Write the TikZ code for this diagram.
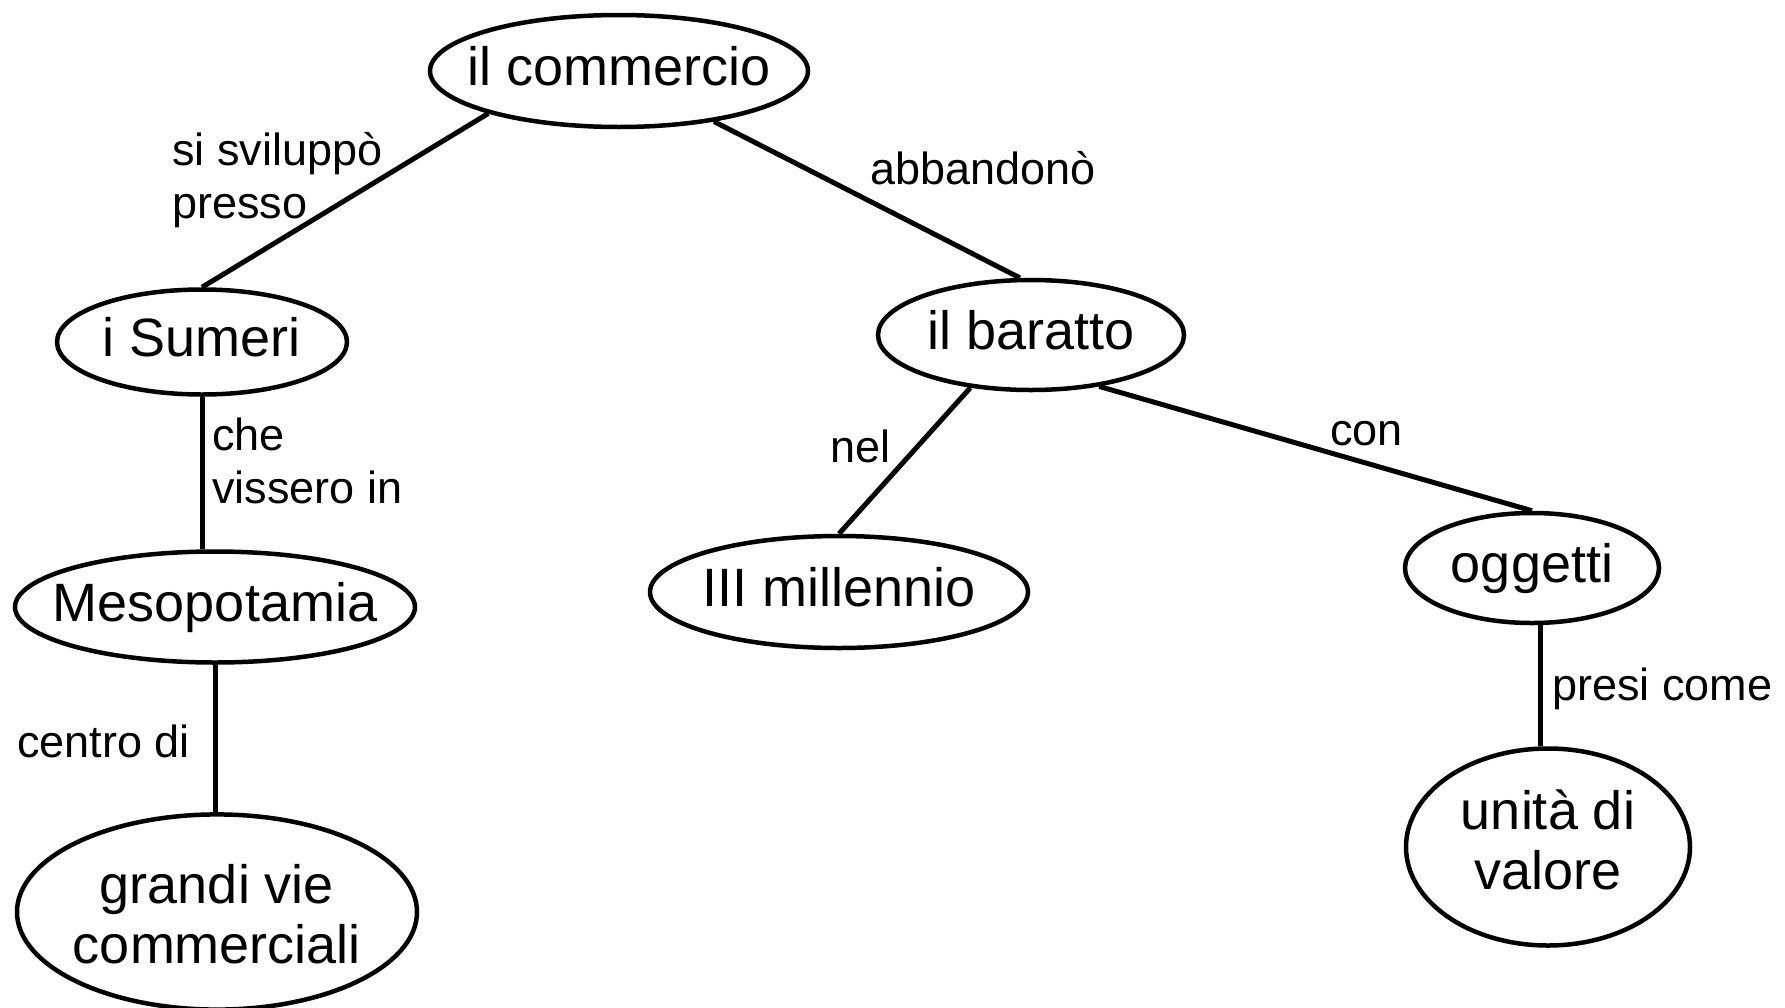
\documentclass[tikz,border=0pt]{standalone}
\usepackage{fontspec}
\setmainfont{Liberation Sans}
\usetikzlibrary{shapes.geometric}
\begin{document}
\begin{tikzpicture}[x=1pt,y=-1pt,
  ell/.style={ellipse, draw, line width=4.5pt, inner sep=0pt, font=\fontsize{54}{60}\selectfont},
  one/.style={text height=39pt, text depth=11pt},
  conn/.style={line width=5pt},
  lab/.style={inner sep=0pt, anchor=base west, font=\fontsize{45}{53}\selectfont}]
\useasboundingbox (0,0) rectangle (1785,1007);
% concept nodes
\node[ell, one, minimum width=378pt, minimum height=112pt] (com) at (619,71) {\makebox[0pt]{il commercio}};
\node[ell, one, minimum width=290pt, minimum height=105pt] (sum) at (202,342) {\makebox[0pt]{i Sumeri}};
\node[ell, one, minimum width=400pt, minimum height=111pt] (mes) at (215,607) {\makebox[0pt]{Mesopotamia}};
\node[ell, minimum width=400pt, minimum height=182pt] (gra) at (217,912) {\makebox[0pt]{\begin{tabular}{@{}c@{}}\rule{0pt}{60pt}grandi vie\\commerciali\end{tabular}}};
\node[ell, one, minimum width=306pt, minimum height=110pt] (bar) at (1031,335) {\makebox[0pt]{il baratto}};
\node[ell, one, minimum width=378pt, minimum height=112pt] (mil) at (839,592) {\makebox[0pt]{III millennio}};
\node[ell, one, minimum width=254pt, minimum height=110pt] (ogg) at (1532,568) {\makebox[0pt]{oggetti}};
\node[ell, minimum width=284pt, minimum height=197pt] (uni) at (1548,847) {\makebox[0pt]{\begin{tabular}{@{}c@{}}unità di\\valore\end{tabular}}};
% connectors
\draw[conn] (com.198) -- (sum.north);
\draw[conn] (com.332) -- (bar.101);
\draw[conn] (sum.south) -- (sum.south |- mes.north);
\draw[conn] (mes.south) -- (mes.south |- gra.north);
\draw[conn] (bar.221) -- (mil.north);
\draw[conn] (bar.323) -- (ogg.north);
\draw[conn] ([xshift=8pt]ogg.south) -- ([xshift=8pt]ogg.south |- uni.north);
% link labels
\node[lab] (l1) at (172,165) {\begin{tabular}[t]{@{}l@{}}si sviluppò\\presso\end{tabular}};
\node[lab] (l2) at (870,184) {abbandonò};
\node[lab] (l3) at (212,450) {\begin{tabular}[t]{@{}l@{}}che\\vissero in\end{tabular}};
\node[lab] (l4) at (830,462) {nel};
\node[lab] (l5) at (1330,445) {con};
\node[lab] (l6) at (17,757) {centro di};
\node[lab] (l7) at (1552,700) {presi come};
\end{tikzpicture}
\end{document}
